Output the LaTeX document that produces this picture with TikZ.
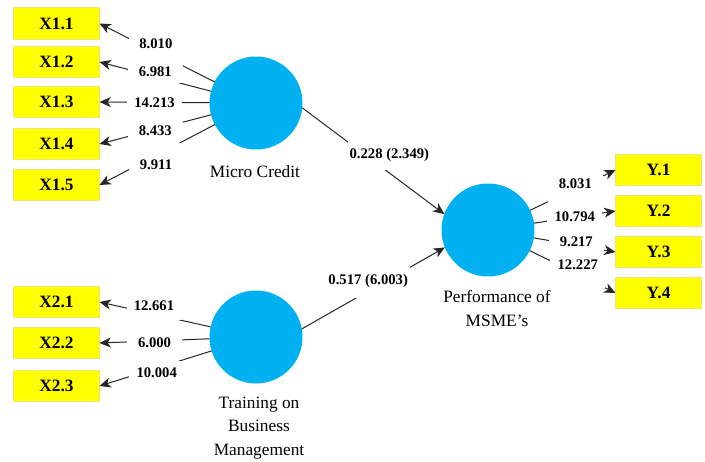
\documentclass[tikz,border=0pt]{standalone}
\usepackage{fontspec}
\setmainfont{Liberation Serif}
\definecolor{lvblue}{RGB}{0,176,240}
\definecolor{indyellow}{RGB}{255,255,0}
\definecolor{indedge}{RGB}{238,228,120}
\usetikzlibrary{arrows.meta}

\begin{document}
\begin{tikzpicture}[x=0.75pt, y=-0.75pt,
  ind/.style={draw=indedge, fill=indyellow, line width=0.8pt, minimum width=64.5pt, minimum height=23.5pt, inner sep=0pt, outer sep=0pt, font=\fontsize{13}{15}\selectfont\bfseries},
  lv/.style={circle, fill=lvblue, minimum size=69.75pt, inner sep=0pt, outer sep=0pt},
  lvname/.style={align=center, font=\fontsize{13}{17.5}\selectfont},
  ld/.style={draw=black!85, line width=0.75pt, -{Stealth[length=8.5pt, width=7.5pt, inset=2.5pt]}},
  wt/.style={fill=white, inner sep=1.5pt, minimum width=41pt, font=\fontsize{11}{13}\selectfont\bfseries}
]
  \useasboundingbox (0,0) rectangle (705,461);

  % indicators
  \node[ind] (x11) at (56.5, 23.5) {X1.1};
  \node[ind] (x12) at (56.5, 62) {X1.2};
  \node[ind] (x13) at (56.5, 102) {X1.3};
  \node[ind] (x14) at (56.5, 144) {X1.4};
  \node[ind] (x15) at (56.5, 185) {X1.5};
  \node[ind] (x21) at (56.5, 302) {X2.1};
  \node[ind] (x22) at (56.5, 343) {X2.2};
  \node[ind] (x23) at (56.5, 386) {X2.3};
  \node[ind] (y1) at (658.5, 170) {Y.1};
  \node[ind] (y2) at (658.5, 211) {Y.2};
  \node[ind] (y3) at (658.5, 252) {Y.3};
  \node[ind] (y4) at (658.5, 293) {Y.4};

  % latent variables
  \node[lv] (mc) at (256, 103) {};
  \node[lv] (tr) at (256, 337) {};
  \node[lv] (perf) at (488, 230) {};
  \node[lvname] (mcname) at (255, 172) {Micro Credit};
  \node[lvname] (trname) at (259, 428) {Training on\\Business\\Management};
  \node[lvname] (perfname) at (497, 308.5) {Performance of\\MSME’s};

  % outer loadings
  \draw[ld] (mc) -- node[wt, pos=.51, yshift=6pt, minimum height=31pt] {8.010} (x11.east);
  \draw[ld] (mc) -- node[wt, pos=.5, yshift=3.4pt, minimum height=16.5pt] {6.981} (x12.east);
  \draw[ld] (mc) -- node[wt, pos=.5] {14.213} (x13.east);
  \draw[ld] (mc) -- node[wt, pos=.5, yshift=-1pt, minimum height=13.5pt] {8.433} (x14.east);
  \draw[ld] (mc) -- node[wt, pos=.51, yshift=-7pt, minimum height=33pt] {9.911} (x15.east);
  \draw[ld] (tr) -- node[wt, pos=.51, yshift=6pt, minimum height=21pt] {12.661} (x21.east);
  \draw[ld] (tr) -- node[wt, pos=.5, yshift=-1.5pt] {6.000} (x22.east);
  \draw[ld] (tr) -- node[wt, pos=.49, yshift=-3.75pt, minimum height=18pt] {10.004} (x23.east);
  \draw[ld] (perf) -- node[wt, pos=.56, yshift=7.2pt, minimum height=35pt] {12.227} (y4.west);
  \draw[ld] (perf) -- node[wt, pos=.52, yshift=2.3pt, minimum height=13.5pt] {9.217} (y3.west);
  \draw[ld] (perf) -- node[wt, pos=.5] {10.794} (y2.west);
  \draw[ld] (perf) -- node[wt, pos=.53, yshift=3.7pt, minimum height=27pt] {8.031} (y1.west);

  % path coefficients
  \draw[ld] (mc.354) -- node[wt, pos=.613, yshift=13.8pt, minimum height=22.5pt] {0.228 (2.349)} (perf.160);
  \draw[ld] (tr.10) -- node[wt, pos=.464, yshift=7.4pt, minimum height=25pt] {0.517 (6.003)} (perf.202);
\end{tikzpicture}
\end{document}
